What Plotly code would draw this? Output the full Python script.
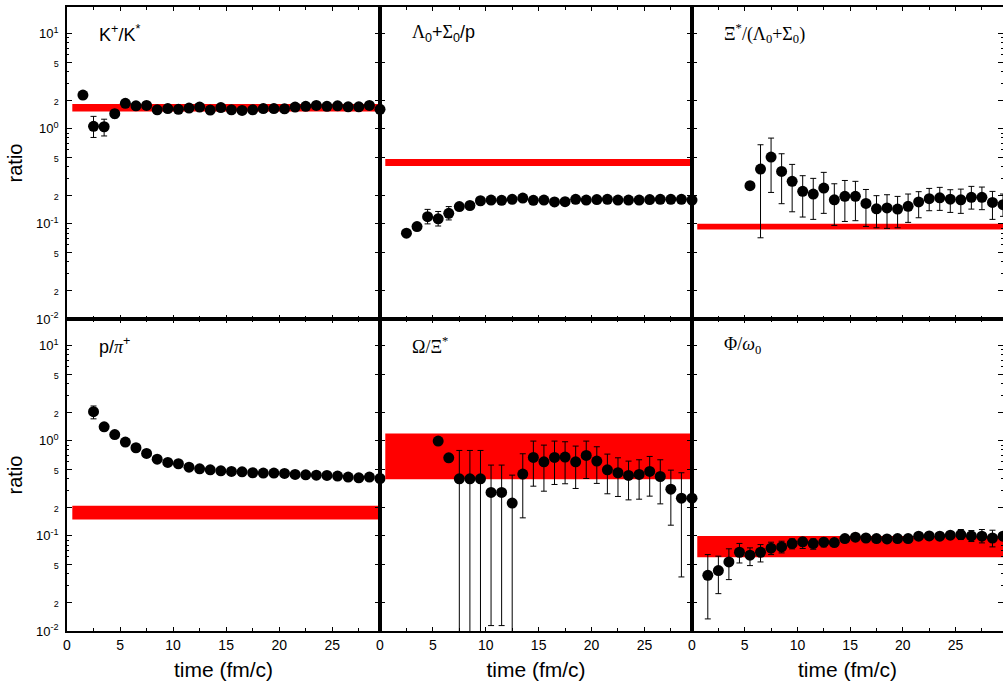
import plotly.graph_objects as go
from plotly.subplots import make_subplots

# ---------------- data ----------------
t_kk = [1.5 + i for i in range(29)]
r_kk = [2.26, 1.06, 1.05, 1.44, 1.85, 1.74, 1.76, 1.58, 1.63, 1.60, 1.65, 1.69, 1.57, 1.67, 1.58,
        1.56, 1.58, 1.63, 1.63, 1.62, 1.69, 1.72, 1.76, 1.72, 1.74, 1.70, 1.70, 1.76, 1.60]
hi_kk = [None, 1.35, 1.26, 1.58] + [None] * 25
lo_kk = [None, 0.81, 0.84, 1.30] + [None] * 25
band_kk = [1.52, 1.82]

t_ls = [2.5 + i for i in range(28)]
r_ls = [0.0798, 0.0938, 0.119, 0.113, 0.129, 0.152, 0.156, 0.175, 0.178, 0.177, 0.181, 0.187, 0.177, 0.178,
        0.170, 0.171, 0.181, 0.178, 0.180, 0.181, 0.178, 0.178, 0.178, 0.180, 0.181, 0.181, 0.181, 0.178]
hi_ls = [None, None, 0.142, 0.135, 0.152] + [None] * 23
lo_ls = [None, None, 0.100, 0.095, 0.110] + [None] * 23
band_ls = [0.407, 0.482]

t_xl = [5.5 + i for i in range(25)]
r_xl = [0.252, 0.377, 0.504, 0.356, 0.280, 0.220, 0.206, 0.238, 0.179, 0.195, 0.195, 0.164, 0.144,
        0.147, 0.143, 0.153, 0.170, 0.184, 0.188, 0.182, 0.179, 0.190, 0.190, 0.168, 0.159]
hi_xl = [None, 0.679, 0.798, 0.546, 0.422, 0.321, 0.301, 0.348, 0.264, 0.286, 0.280, 0.230, 0.198,
         0.2025, 0.1945, 0.206, 0.218, 0.236, 0.242, 0.2286, 0.232, 0.2478, 0.2438, 0.2195, 0.206]
lo_xl = [None, 0.0714, 0.214, 0.163, 0.134, 0.118, 0.1115, 0.129, 0.0964, 0.106, 0.108, 0.094, 0.091,
         0.0897, 0.091, 0.1037, 0.116, 0.1375, 0.1386, 0.132, 0.129, 0.143, 0.141, 0.1115, 0.120]
band_xl = [0.0875, 0.1004]

t_pp = [2.5 + i for i in range(28)]
r_pp = [2.02, 1.40, 1.16, 0.968, 0.844, 0.736, 0.641, 0.592, 0.573, 0.528, 0.507, 0.495, 0.483, 0.476,
        0.472, 0.461, 0.457, 0.457, 0.453, 0.442, 0.439, 0.435, 0.432, 0.425, 0.415, 0.408, 0.415, 0.401]
hi_pp = [2.32, 1.52] + [None] * 26
lo_pp = [1.70, 1.29] + [None] * 26
band_pp = [0.1485, 0.207]

t_ox = [5.5 + i for i in range(25)]
r_ox = [0.992, 0.662, 0.398, 0.398, 0.398, 0.286, 0.286, 0.221, 0.446, 0.668, 0.601, 0.668, 0.673,
        0.601, 0.701, 0.611, 0.495, 0.461, 0.432, 0.442, 0.476, 0.421, 0.310, 0.249, 0.249]
hi_ox = [None, None, 0.791, 0.791, 0.791, 0.555, 0.555, 0.435, 0.730, 0.992, 0.900, 0.992, 0.976,
         0.879, 0.992, 0.865, 0.724, 0.662, 0.611, 0.631, 0.684, 0.631, 0.491, 0.461, None]
lo_ox = [None, None, 0.005, 0.005, 0.005, 0.0114, 0.0114, 0.0084, 0.1547, 0.333, 0.295, 0.347, 0.353,
         0.315, 0.401, 0.356, 0.277, 0.2595, 0.239, 0.243, 0.2616, 0.217, 0.1295, 0.037, None]
band_ox = [0.395, 1.195]

t_fw = [1.5 + i for i in range(29)]
r_fw = [0.0385, 0.0432, 0.0532, 0.0673, 0.0626, 0.0673, 0.0742, 0.0766, 0.083, 0.0865, 0.083, 0.0858,
        0.085, 0.0937, 0.0968, 0.095, 0.0937, 0.093, 0.0937, 0.0937, 0.0992, 0.100, 0.0992, 0.1016,
        0.1033, 0.100, 0.0992, 0.095, 0.0992]
hi_fw = [0.0636, 0.0612, 0.0731, 0.0833, 0.0748, 0.081, 0.0858, 0.0879, 0.093, 0.0953, 0.093, 0.0945,
         None, None, None, None, None, None, None, None, None, None, None, None,
         0.1166, 0.1138, 0.1166, 0.1147, None]
lo_fw = [0.0134, 0.0247, 0.0347, 0.0519, 0.0487, 0.0532, 0.0636, 0.0662, 0.073, 0.0736, 0.0724, 0.0766,
         None, None, None, None, None, None, None, None, None, None, None, None,
         0.0915, 0.0872, 0.0844, 0.0766, None]
band_fw = [0.0596, 0.100]

band_x = [0.5, 29.5]

SERIF = "<span style='font-family:Liberation Serif'>%s</span>"
labels = [
    "K<sup>+</sup>/K<sup>*</sup>",
    (SERIF % "Λ") + "<sub>0</sub>+" + (SERIF % "Σ") + "<sub>0</sub>/p",
    SERIF % "Ξ<sup>*</sup>/(Λ<sub>0</sub>+Σ<sub>0</sub>)",
    "p/" + (SERIF % "<i>π</i>") + "<sup>+</sup>",
    SERIF % "Ω/Ξ<sup>*</sup>",
    SERIF % "Φ/<i>ω</i><sub>0</sub>",
]

panels = [
    (t_kk, r_kk, hi_kk, lo_kk, band_kk),
    (t_ls, r_ls, hi_ls, lo_ls, band_ls),
    (t_xl, r_xl, hi_xl, lo_xl, band_xl),
    (t_pp, r_pp, hi_pp, lo_pp, band_pp),
    (t_ox, r_ox, hi_ox, lo_ox, band_ox),
    (t_fw, r_fw, hi_fw, lo_fw, band_fw),
]

# ---------------- figure ----------------
fig = make_subplots(rows=2, cols=3, horizontal_spacing=0, vertical_spacing=0)

for k, (t, r, hi, lo, band) in enumerate(panels):
    row, col = k // 3 + 1, k % 3 + 1
    # red band
    fig.add_trace(go.Scatter(
        x=[band_x[0], band_x[1], band_x[1], band_x[0], band_x[0]],
        y=[band[0], band[0], band[1], band[1], band[0]],
        mode="lines", fill="toself", fillcolor="#ff0000",
        line=dict(width=0, color="#ff0000"), hoverinfo="skip", showlegend=False),
        row=row, col=col)
    plus = [None if h is None else h - v for h, v in zip(hi, r)]
    minus = [None if l is None else v - l for l, v in zip(lo, r)]
    fig.add_trace(go.Scatter(
        x=t, y=r, mode="markers",
        marker=dict(color="black", size=11, line=dict(width=0)),
        error_y=dict(type="data", symmetric=False, array=plus, arrayminus=minus,
                     color="black", thickness=1, width=3),
        showlegend=False, cliponaxis=False),
        row=row, col=col)

W, H = 1003, 692
ml, mr, mt, mb = 67, 0, 7, 61
pw = W - ml - mr
xb = [67, 380, 692, 1003]
xdom = [[(xb[i] - ml) / pw, (xb[i + 1] - ml) / pw] for i in range(3)]
ydom = [[0.5, 1.0], [0.0, 0.5]]

sm = "<span style='font-size:9px'>%s</span>"
ytv, ytt = [], []
for e in (-2, -1, 0, 1):
    ytv += [10 ** e]
    ytt += ["10<sup>%d</sup>" % e]
    if e < 1:
        ytv += [2 * 10 ** e, 5 * 10 ** e]
        ytt += [sm % "2", sm % "5"]
minor_vals = [m * 10 ** e for e in (-2, -1, 0, 1) for m in (3, 4, 6, 7, 8, 9)] + [20]

axis_common = dict(showgrid=False, zeroline=False, showline=True, mirror="ticks",
                   linecolor="black", linewidth=1.5, ticks="inside", tickcolor="black",
                   automargin=False,
                   tickfont=dict(size=14, color="black", family="Liberation Sans"))

for k in range(6):
    row, col = k // 3, k % 3
    sfx = "" if k == 0 else str(k + 1)
    xa = dict(axis_common, domain=xdom[col], range=[0, 29.5], tickvals=[0, 5, 10, 15, 20, 25],
              ticklen=4, tickwidth=1, showticklabels=(row == 1),
              minor=dict(tickvals=[2.5, 7.5, 12.5, 17.5, 22.5, 27.5], ticklen=3, tickcolor="black",
                         ticks="inside", showgrid=False))
    if row == 1:
        xa["title"] = dict(text="time (fm/c)", font=dict(size=21, color="black"), standoff=11)
    ya = dict(axis_common, domain=ydom[row], type="log", range=[-2, 1.28],
              tickvals=ytv, ticktext=ytt, ticklen=5, tickwidth=1,
              showticklabels=(col == 0), ticklabelstandoff=4,
              tickfont=dict(size=13, color="black", family="Liberation Sans"),
              minor=dict(tickvals=minor_vals, ticklen=2.5, tickcolor="black",
                         ticks="inside", showgrid=False))
    if col == 0:
        ya["title"] = dict(text="ratio", font=dict(size=20, color="black"), standoff=8)
    fig.layout["xaxis" + sfx].update(xa)
    fig.layout["yaxis" + sfx].update(ya)
    fig.add_annotation(text=labels[k], xref="x%s domain" % sfx, yref="y%s domain" % sfx,
                       x=0.096, y=0.915, xanchor="left", yanchor="middle", showarrow=False,
                       font=dict(size=18, color="black", family="Liberation Sans"))

fig.update_layout(width=W, height=H, margin=dict(l=ml, r=mr, t=mt, b=mb, autoexpand=False),
                  paper_bgcolor="white", plot_bgcolor="white",
                  font=dict(family="Liberation Sans", color="black"), showlegend=False)

fig.write_html("out.html", config={"displayModeBar": False},
               post_script="document.body.style.margin='0';document.body.style.overflow='hidden';")
